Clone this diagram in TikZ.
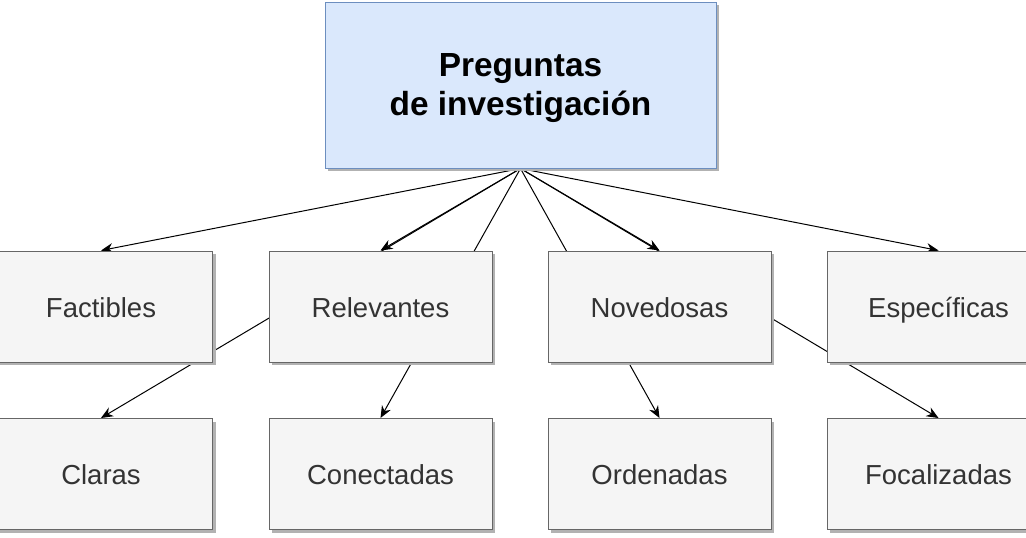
\documentclass[tikz,border=0pt]{standalone}
\usepackage{fontspec}
\setmainfont{Liberation Sans}
\usetikzlibrary{arrows.meta,shadows,backgrounds}

\definecolor{topfill}{HTML}{DAE8FC}
\definecolor{topline}{HTML}{6C8EBF}
\definecolor{boxfill}{HTML}{F5F5F5}
\definecolor{boxline}{HTML}{666666}
\definecolor{boxtext}{HTML}{333333}

\tikzset{
  box/.style={draw=boxline, fill=boxfill, text=boxtext, line width=1pt,
    minimum width=223pt, minimum height=111pt, inner sep=0pt,
    text height=24pt, text depth=2.4pt,
    font=\fontsize{27.5}{33}\selectfont,
    drop shadow={shadow xshift=3pt, shadow yshift=-3pt, fill=black!30, opacity=1}},
  topbox/.style={box, draw=topline, fill=topfill, text=black,
    minimum width=391pt, minimum height=166pt, align=center,
    text height=, text depth=1pt,
    font=\fontsize{33.4}{39}\selectfont\bfseries},
  link/.style={line width=1pt, -{Stealth[length=12pt,width=10pt]}}
}

\begin{document}
\begin{tikzpicture}[x=1pt, y=-1pt]
\clip (0,0) rectangle (1026,538);
\useasboundingbox (0,0) rectangle (1026,538);

% the question box
\node[topbox] (preg) at (520.5,85) {Preguntas\\de investigación};

% first row of qualities
\node[box] (fact) at (101,306.5)   {Factibles};
\node[box] (rele) at (380.5,306.5) {Relevantes};
\node[box] (nove) at (659.5,306.5) {Novedosas};
\node[box] (espe) at (938.5,306.5) {Específicas};

% second row of qualities
\node[box] (clar) at (101,474)   {Claras};
\node[box] (cone) at (380.5,474) {Conectadas};
\node[box] (orde) at (659.5,474) {Ordenadas};
\node[box] (foca) at (938.5,474) {Focalizadas};

% all arrows leave the question box, behind the boxes
\begin{scope}[on background layer]
\foreach \q in {fact,rele,nove,espe,clar,cone,orde,foca}
  \draw[link] (preg.south) -- (\q.north);
\end{scope}

\end{tikzpicture}
\end{document}
